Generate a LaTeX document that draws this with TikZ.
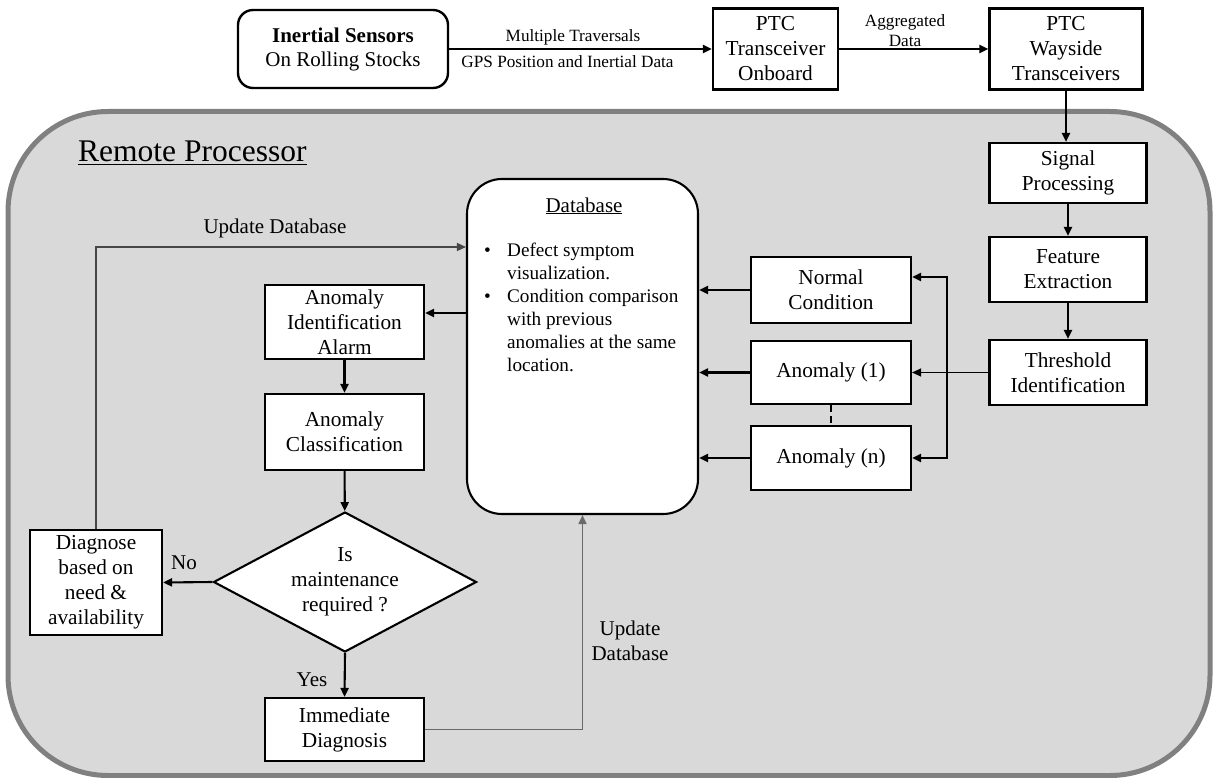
\documentclass[tikz,border=0pt]{standalone}
\usepackage{fontspec}
\setmainfont{Liberation Serif}
\usetikzlibrary{arrows.meta,shapes.geometric}
\newcommand\myfs[2]{\fontsize{#1}{#2}\selectfont}
\definecolor{panelfill}{RGB}{217,217,217}
\definecolor{panelline}{RGB}{128,128,128}
\definecolor{feedA}{RGB}{70,70,70}
\definecolor{feedB}{RGB}{105,105,105}

\begin{document}
\begin{tikzpicture}[x=1pt,y=-1pt,
  box/.style={draw, line width=2.1pt, fill=white, align=center, inner sep=0pt,
              font=\myfs{21.3}{25}},
  tip/.tip={Triangle[length=9pt,width=8pt]},
  arr/.style={line width=2.1pt, -tip},
  thinarr/.style={line width=1.2pt, -tip},
  lbl/.style={font=\myfs{21}{25}, align=center, inner sep=0pt},
  smalllbl/.style={font=\myfs{17.2}{20}, align=center, inner sep=0pt},
]
\useasboundingbox (0,0) rectangle (1215,778);

% remote processor panel
\node[draw=panelline, line width=5pt, fill=panelfill, rounded corners=100pt,
      minimum width=1202pt, minimum height=664pt, inner sep=0pt] (panel) at (609,443.5) {};
\node[anchor=base west, font=\myfs{31.5}{36}, inner sep=0pt] (title) at (78,162)
  {\underline{Remote Processor}};

% top row
\node[box, line width=2.4pt, rounded corners=15pt, minimum width=210pt, minimum height=78pt,
      font=\myfs{21}{24}] (sens) at (343,49)
  {\textbf{Inertial Sensors}\\On Rolling Stocks};
\node[box, minimum width=125pt, minimum height=81pt] (ptc) at (775.5,49)
  {PTC\\Transceiver\\Onboard};
\node[box, minimum width=153pt, minimum height=81pt] (way) at (1066,49)
  {PTC\\Wayside\\Transceivers};

% right column
\node[box, minimum width=157pt, minimum height=60pt] (sig) at (1068,173) {Signal\\Processing};
\node[box, minimum width=157pt, minimum height=65pt] (feat) at (1068,269.5) {Feature\\Extraction};
\node[box, minimum width=157pt, minimum height=65pt] (thr) at (1068,372.5) {Threshold\\Identification};

% conditions
\node[box, minimum width=160pt, minimum height=66pt] (norm) at (831,290) {Normal\\Condition};
\node[box, minimum width=160pt, minimum height=63pt] (an1) at (831,372.5) {Anomaly (1)};
\node[box, minimum width=160pt, minimum height=64pt] (ann) at (831,458) {Anomaly (n)};

% database
\node[draw, line width=2.1pt, fill=white, rounded corners=35pt,
      minimum width=231pt, minimum height=335pt, inner sep=0pt] (db) at (582.5,346.5) {};
\node[lbl, anchor=base] (dbtitle) at (584,212) {\underline{Database}};
\node[anchor=north west, inner sep=0pt, font=\myfs{19.2}{23}] (dblist) at (484,240)
  {\begin{tabular}{@{}l@{}l@{}}
   \makebox[23pt][l]{\textbullet} & Defect symptom\\
    & visualization.\\
   \makebox[23pt][l]{\textbullet} & Condition comparison\\
    & with previous\\
    & anomalies at the same\\
    & location.
   \end{tabular}};

% left column
\node[box, minimum width=159pt, minimum height=74pt] (alarm) at (344.5,322)
  {Anomaly\\Identification\\Alarm};
\node[box, minimum width=159pt, minimum height=76pt] (cls) at (344.5,432)
  {Anomaly\\Classification};
\node[box, shape=diamond, aspect=1.88, minimum width=263pt, minimum height=140pt] (dia)
  at (345,582) {Is\\maintenance\\required ?};
\node[box, minimum width=132pt, minimum height=105pt] (diag) at (96,582.5)
  {Diagnose\\based on\\need \&\\availability};
\node[box, minimum width=159pt, minimum height=63pt] (imm) at (344.5,729.5)
  {Immediate\\Diagnosis};

% top row links
\draw[arr] (sens.east) -- (ptc.west);
\node[smalllbl] (lmt) at (573,37) {Multiple Traversals};
\node[smalllbl] (lgps) at (567.5,62) {GPS Position and Inertial Data};
\draw[arr] (ptc.east) -- (way.west);
\node[smalllbl] (lagg) at (905,31) {Aggregated\\Data};
\draw[arr] (way.south) -- (way.south |- sig.north);

% processing chain
\draw[arr] (sig) -- (feat);
\draw[arr] (feat) -- (thr);
\draw[thinarr] (thr.west) -- (thr.west -| an1.east);
\coordinate (bt) at (947,277);
\coordinate (bb) at (947,458);
\draw[line width=2.1pt, tip-tip] (bt -| norm.east) -- (bt) -- (bb) -- (bb -| ann.east);
\draw[line width=2.1pt, dash pattern=on 7pt off 4pt] (an1.south) -- (ann.north);

% conditions into database
\draw[arr] (norm.west) -- (norm.west -| db.east);
\draw[arr] (an1.west) -- (an1.west -| db.east);
\draw[arr] (ann.west) -- (ann.west -| db.east);

% decision flow
\draw[arr] (db.west |- 0,313) -- (alarm.east |- 0,313);
\draw[arr] (alarm) -- (cls);
\draw[arr] (cls) -- (dia);
\draw[arr] (dia.west) -- (diag.east);
\node[lbl] (lno) at (184,563) {No};
\draw[arr] (dia.south) -- (imm.north);
\node[lbl] (lyes) at (312,680) {Yes};

% database updates
\draw[draw=feedA, line width=1.3pt, -tip] (diag.north) -- (diag.north |- 0,247) -- (db.west |- 0,247);
\node[lbl] (lupd1) at (275,228) {Update Database};
\draw[draw=feedB, line width=1.7pt, -tip] (imm.east) -- (imm.east -| db.south) -- (db.south);
\node[lbl] (lupd2) at (630,641) {Update\\Database};
\end{tikzpicture}
\end{document}
